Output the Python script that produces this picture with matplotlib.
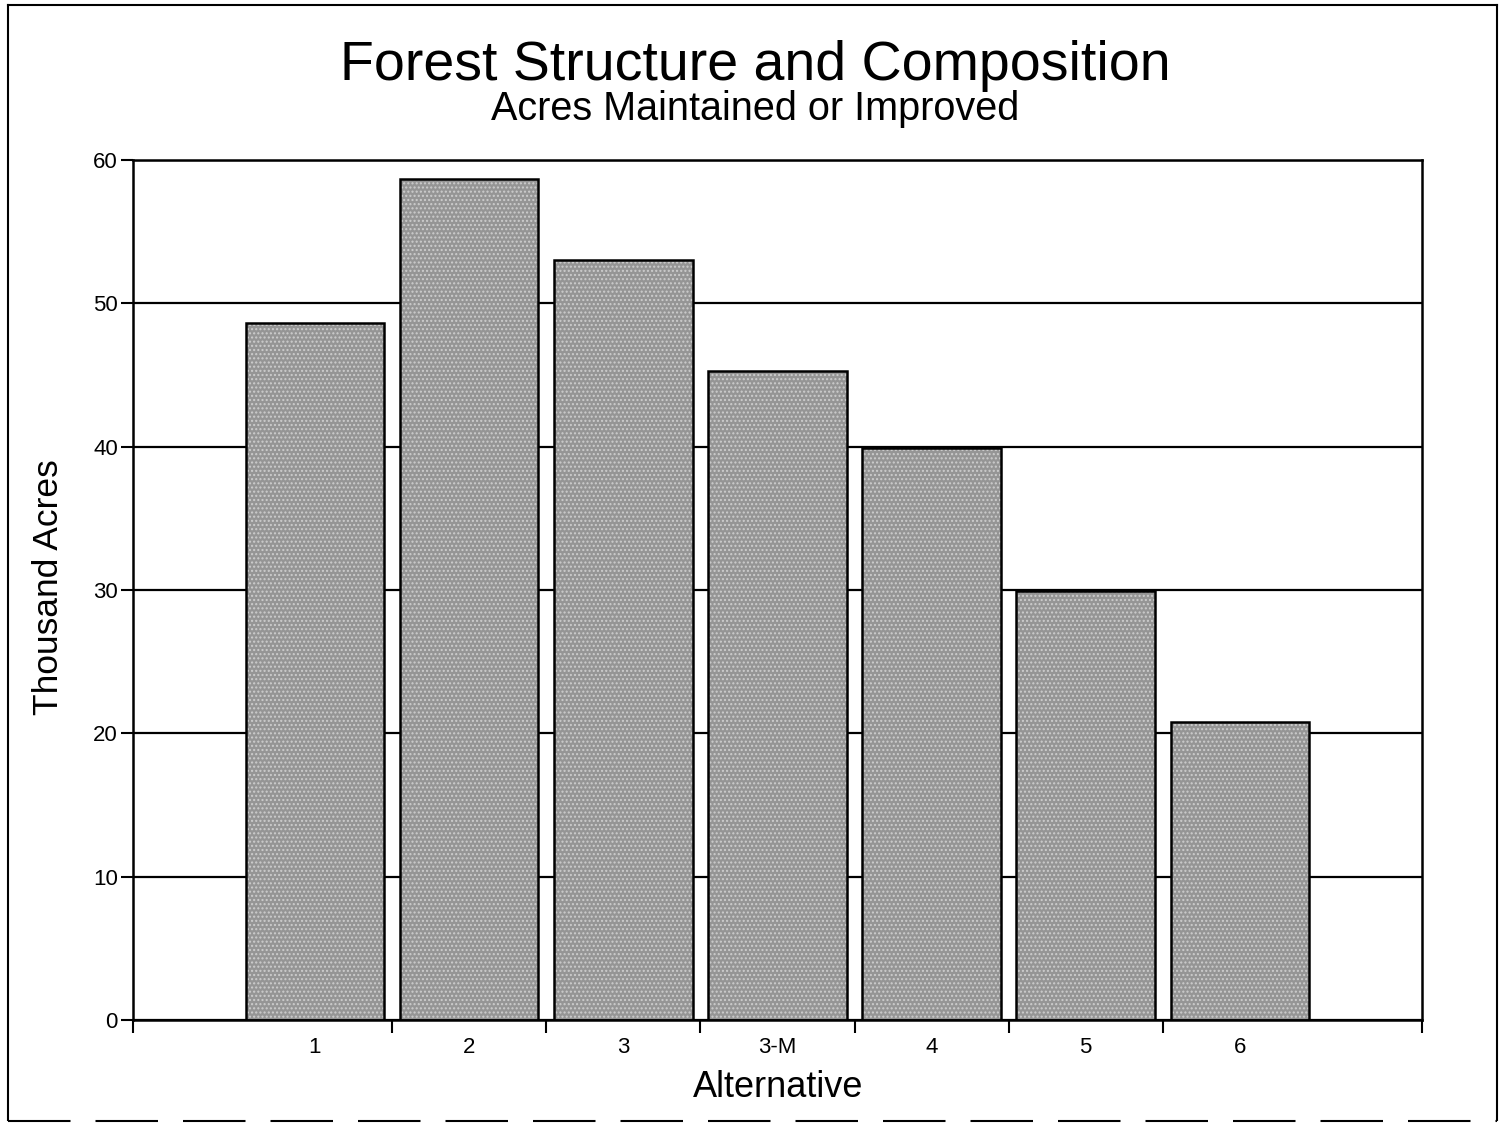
import matplotlib.pyplot as plt
from matplotlib.lines import Line2D

plt.rcParams['font.family'] = ['Liberation Sans', 'DejaVu Sans']
plt.rcParams['hatch.linewidth'] = 1.0

# Thousand acres maintained or improved, by alternative
alternatives = ['1', '2', '3', '3-M', '4', '5', '6']
thousand_acres = [48.6, 58.7, 53.0, 45.3, 39.9, 29.9, 20.8]
y_ticks = [0, 10, 20, 30, 40, 50, 60]

fig = plt.figure(figsize=(15.02, 11.24), dpi=100)
ax = fig.add_axes([0.0886, 0.0925, 0.858, 0.7652])

x = list(range(len(alternatives)))

# stippled grey fill, then black outlines on top
ax.bar(x, thousand_acres, width=0.9, color='#959595', hatch='....',
       edgecolor='#cdcdcd', linewidth=0, zorder=2)
ax.bar(x, thousand_acres, width=0.9, fill=False, edgecolor='black',
       linewidth=1.8, zorder=3)

x_left, x_right = -1.18, 7.18
ax.set_xlim(x_left, x_right)
ax.set_ylim(0, 60)

ax.set_yticks(y_ticks)
ax.set_yticklabels([str(v) for v in y_ticks], fontsize=16)
ax.yaxis.grid(True, color='black', linewidth=1.6)
ax.set_axisbelow(True)

# category boundaries get the tick marks, labels sit at the centres
boundaries = [x_left] + [i + 0.5 for i in range(len(alternatives) - 1)] + [x_right]
ax.set_xticks(boundaries)
ax.set_xticklabels([''] * len(boundaries))
ax.set_xticks(x, minor=True)
ax.set_xticklabels(alternatives, minor=True, fontsize=16)
ax.tick_params(axis='x', which='major', direction='out', length=9, width=1.5)
ax.tick_params(axis='x', which='minor', length=0, pad=12)
ax.tick_params(axis='y', direction='out', length=9, width=1.5, pad=2)

for side in ['left', 'right', 'top', 'bottom']:
    ax.spines[side].set_linewidth(1.8)

fig.text(0.503, 0.9288, 'Forest Structure and Composition', fontsize=40,
         ha='center', va='baseline')
fig.text(0.503, 0.8932, 'Acres Maintained or Improved', fontsize=28.5,
         ha='center', va='baseline')
fig.text(0.518, 0.024, 'Alternative', fontsize=26, ha='center', va='baseline')
fig.text(0.0326, 0.478, 'Thousand Acres', fontsize=25.5, rotation=90,
         ha='center', va='center')

# page border
fig.add_artist(Line2D([0.0053, 0.0053], [0.004, 0.9955], color='black', linewidth=1.5))
fig.add_artist(Line2D([0.0053, 0.9967], [0.9955, 0.9955], color='black', linewidth=1.5))
fig.add_artist(Line2D([0.9967, 0.9967], [0.004, 0.9955], color='black', linewidth=1.5))
fig.add_artist(Line2D([0.0053, 0.9967], [0.003, 0.003], color='black', linewidth=1.5,
                      dashes=(30, 12)))

fig.savefig('out.png', dpi=100)
